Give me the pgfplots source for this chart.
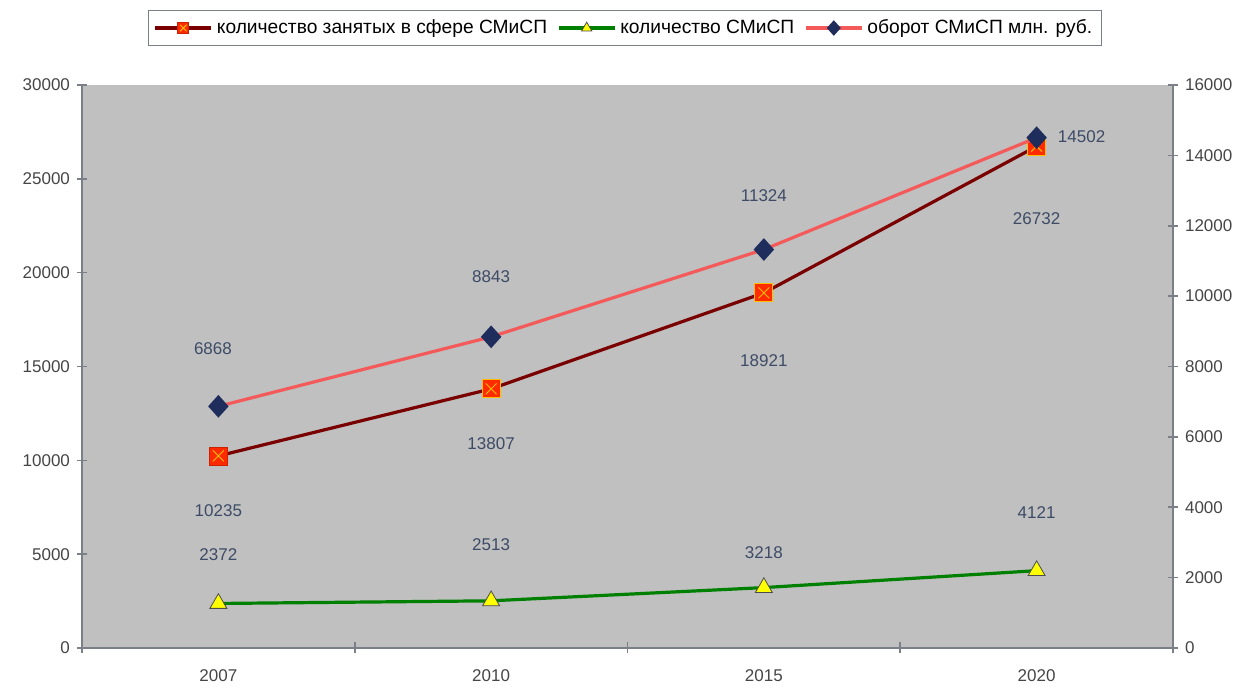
\documentclass[border=0pt]{standalone}
\usepackage{fontspec}
\setmainfont{Liberation Sans}
\usepackage{pgfplots}
\pgfplotsset{compat=1.18}

\definecolor{plotbg}{HTML}{C0C0C0}
\definecolor{axisgray}{HTML}{7A7F88}
\definecolor{ticktext}{HTML}{454545}
\definecolor{labtext}{HTML}{3D4B66}
\definecolor{empline}{HTML}{7A0000}
\definecolor{empfill}{HTML}{FF2A00}
\definecolor{empx}{HTML}{FFC000}
\definecolor{cntline}{HTML}{008000}
\definecolor{cntfill}{HTML}{FFFF00}
\definecolor{turnline}{HTML}{F45A5A}
\definecolor{turnmark}{HTML}{1F2D5C}

% red square with a yellow cross
\pgfdeclareplotmark{sqx}{%
  \pgfpathrectangle{\pgfqpoint{-\pgfplotmarksize}{-\pgfplotmarksize}}{\pgfqpoint{2\pgfplotmarksize}{2\pgfplotmarksize}}%
  \pgfusepathqfillstroke
  \pgfsetstrokecolor{empx}%
  \pgfsetlinewidth{0.5pt}%
  \pgfpathmoveto{\pgfqpoint{-0.6\pgfplotmarksize}{-0.6\pgfplotmarksize}}%
  \pgfpathlineto{\pgfqpoint{0.6\pgfplotmarksize}{0.6\pgfplotmarksize}}%
  \pgfpathmoveto{\pgfqpoint{-0.6\pgfplotmarksize}{0.6\pgfplotmarksize}}%
  \pgfpathlineto{\pgfqpoint{0.6\pgfplotmarksize}{-0.6\pgfplotmarksize}}%
  \pgfusepathqstroke
}

\tikzset{lab/.style={font=\fontsize{8.5}{10}\selectfont, text=labtext}}

\begin{document}
\begin{tikzpicture}
\useasboundingbox (-41pt,-20pt) rectangle (580pt,324pt);
\pgfplotsset{
  common/.style={
    scale only axis,
    width=545.5pt, height=281.5pt,
    xmin=-0.5, xmax=3.5,
    axis line style={-, draw=axisgray, line width=0.8pt},
    tick style={draw=axisgray, line width=0.8pt},
    tick align=center,
    major tick length=5pt,
    scaled y ticks=false,
    /pgf/number format/1000 sep={},
    /pgf/number format/assume math mode=true,
    ticklabel style={font=\fontsize{8.5}{10}\selectfont, text=ticktext},
    clip=false,
  },
  legline/.style={legend image code/.code={
    \draw[##1] (0pt,0pt) -- (28pt,0pt);
    \draw[##1, /tikz/every mark/.append style={scale=0.6}] plot coordinates {(14pt,0pt)};
  }},
}

\begin{axis}[common,
  axis background/.style={fill=plotbg},
  axis x line*=bottom, axis y line*=left,
  ymin=0, ymax=30000,
  ytick={0,5000,...,30000},
  xtick={0,1,2,3},
  xticklabels={2007,2010,2015,2020},
  major x tick style={draw=none},
  minor xtick={-0.5,0.5,1.5,2.5,3.5},
  minor tick length=5.5pt,
  minor x tick style={draw=axisgray, line width=0.8pt},
  xticklabel style={yshift=-5pt},
  legend columns=3,
  legend style={at={(0.4977,1.1012)}, anchor=center,
    draw=axisgray, fill=white, line width=0.6pt,
    font=\fontsize{9.6}{11}\selectfont, inner sep=2.5pt,
    /tikz/every even column/.append style={column sep=3pt}},
]
\addplot[legline, empline, line width=1.6pt, mark=sqx, mark size=4.5pt,
  mark options={fill=empfill, draw=empfill!80!black, line width=0.4pt}]
  coordinates {(0,10235) (1,13807) (2,18921) (3,26732)};
\addlegendentry{количество занятых в сфере СМиСП}
\addplot[legline, cntline, line width=1.6pt, mark=triangle*, mark size=4.9pt,
  mark options={fill=cntfill, draw=black!70, line width=0.4pt}]
  coordinates {(0,2372) (1,2513) (2,3218) (3,4121)};
\addlegendentry{количество СМиСП}
\addlegendimage{legline, turnline, line width=1.6pt, mark=diamond*, mark size=4.5pt,
  mark options={fill=turnmark, draw=turnmark, xscale=1.2}}
\addlegendentry{оборот СМиСП млн. руб.}

% data labels
\node[lab] at (axis cs:0,7300) {10235};
\node[lab] at (axis cs:1,10870) {13807};
\node[lab] at (axis cs:2,15293) {18921};
\node[lab] at (axis cs:3,22860) {26732};
\node[lab] at (axis cs:0,4956) {2372};
\node[lab] at (axis cs:1,5488) {2513};
\node[lab] at (axis cs:2,5062) {3218};
\node[lab] at (axis cs:3,7194) {4121};
\node[lab] at (axis cs:-0.02,15933) {6868};
\node[lab] at (axis cs:1,19769) {8843};
\node[lab] at (axis cs:2,24085) {11324};
\node[lab] at (axis cs:3.165,27229) {14502};
\end{axis}

\begin{axis}[common,
  axis x line=none, axis y line*=right,
  ymin=0, ymax=16000,
  ytick={0,2000,...,16000},
]
\addplot[turnline, line width=1.6pt, mark=diamond*, mark size=4.5pt,
  mark options={fill=turnmark, draw=turnmark, xscale=1.2}]
  coordinates {(0,6868) (1,8843) (2,11324) (3,14502)};
\end{axis}
\end{tikzpicture}
\end{document}
